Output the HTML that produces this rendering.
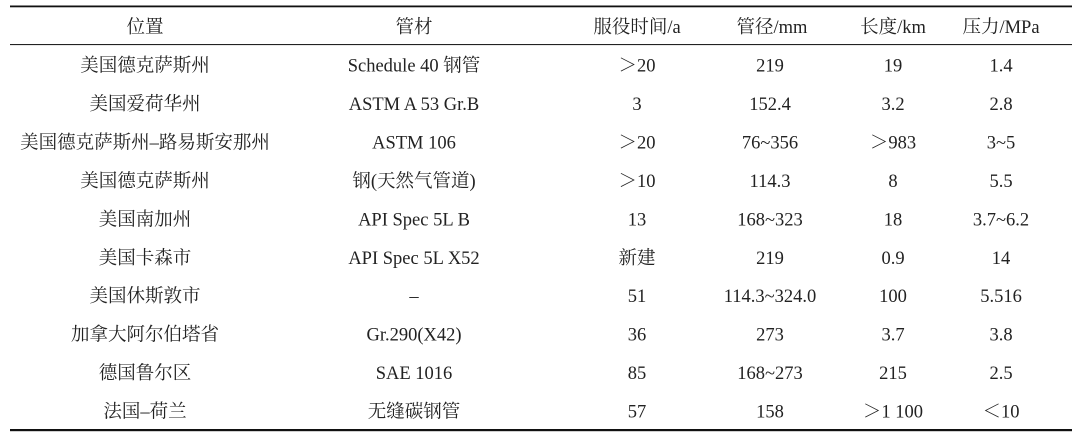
<!DOCTYPE html>
<html>
<head>
<meta charset="utf-8">
<style>
  html, body { margin: 0; padding: 0; background: #fff; }
  body { width: 1080px; height: 441px; overflow: hidden; }
  svg { display: block; }
  text {
    font-family: "Liberation Serif", "Noto Serif CJK SC", serif;
    font-size: 18.5px;
    fill: #222;
    text-anchor: middle;
  }
</style>
</head>
<body>
<svg width="1080" height="441" viewBox="0 0 1080 441" xmlns="http://www.w3.org/2000/svg">
  <rect x="0" y="0" width="1080" height="441" fill="#fff"/>
  <!-- rules -->
  <rect x="10" y="5.5" width="1062" height="1.8" fill="#111"/>
  <rect x="10" y="44" width="1062" height="1.1" fill="#222"/>
  <rect x="10" y="429" width="1062" height="2.2" fill="#111"/>

  <!-- header -->
  <text x="145" y="33">位置</text>
  <text x="414" y="33">管材</text>
  <text x="637" y="33">服役时间/a</text>
  <text x="772" y="33">管径/mm</text>
  <text x="893" y="33">长度/km</text>
  <text x="1001" y="33">压力/MPa</text>

  <!-- row 1 -->
  <text x="145" y="71.5">美国德克萨斯州</text>
  <text x="414" y="71.5">Schedule 40 钢管</text>
  <text x="637" y="71.5">＞20</text>
  <text x="770" y="71.5">219</text>
  <text x="893" y="71.5">19</text>
  <text x="1001" y="71.5">1.4</text>

  <!-- row 2 -->
  <text x="145" y="110">美国爱荷华州</text>
  <text x="414" y="110">ASTM A 53 Gr.B</text>
  <text x="637" y="110">3</text>
  <text x="770" y="110">152.4</text>
  <text x="893" y="110">3.2</text>
  <text x="1001" y="110">2.8</text>

  <!-- row 3 -->
  <text x="145" y="148.4">美国德克萨斯州–路易斯安那州</text>
  <text x="414" y="148.4">ASTM 106</text>
  <text x="637" y="148.4">＞20</text>
  <text x="770" y="148.4">76~356</text>
  <text x="893" y="148.4">＞983</text>
  <text x="1001" y="148.4">3~5</text>

  <!-- row 4 -->
  <text x="145" y="186.9">美国德克萨斯州</text>
  <text x="414" y="186.9">钢(天然气管道)</text>
  <text x="637" y="186.9">＞10</text>
  <text x="770" y="186.9">114.3</text>
  <text x="893" y="186.9">8</text>
  <text x="1001" y="186.9">5.5</text>

  <!-- row 5 -->
  <text x="145" y="225.3">美国南加州</text>
  <text x="414" y="225.3">API Spec 5L B</text>
  <text x="637" y="225.3">13</text>
  <text x="770" y="225.3">168~323</text>
  <text x="893" y="225.3">18</text>
  <text x="1001" y="225.3">3.7~6.2</text>

  <!-- row 6 -->
  <text x="145" y="263.8">美国卡森市</text>
  <text x="414" y="263.8">API Spec 5L X52</text>
  <text x="637" y="263.8">新建</text>
  <text x="770" y="263.8">219</text>
  <text x="893" y="263.8">0.9</text>
  <text x="1001" y="263.8">14</text>

  <!-- row 7 -->
  <text x="145" y="302.2">美国休斯敦市</text>
  <text x="414" y="302.2">–</text>
  <text x="637" y="302.2">51</text>
  <text x="770" y="302.2">114.3~324.0</text>
  <text x="893" y="302.2">100</text>
  <text x="1001" y="302.2">5.516</text>

  <!-- row 8 -->
  <text x="145" y="340.7">加拿大阿尔伯塔省</text>
  <text x="414" y="340.7">Gr.290(X42)</text>
  <text x="637" y="340.7">36</text>
  <text x="770" y="340.7">273</text>
  <text x="893" y="340.7">3.7</text>
  <text x="1001" y="340.7">3.8</text>

  <!-- row 9 -->
  <text x="145" y="379.1">德国鲁尔区</text>
  <text x="414" y="379.1">SAE 1016</text>
  <text x="637" y="379.1">85</text>
  <text x="770" y="379.1">168~273</text>
  <text x="893" y="379.1">215</text>
  <text x="1001" y="379.1">2.5</text>

  <!-- row 10 -->
  <text x="145" y="417.6">法国–荷兰</text>
  <text x="414" y="417.6">无缝碳钢管</text>
  <text x="637" y="417.6">57</text>
  <text x="770" y="417.6">158</text>
  <text x="893" y="417.6">＞1 100</text>
  <text x="1001" y="417.6">＜10</text>
</svg>
</body>
</html>
